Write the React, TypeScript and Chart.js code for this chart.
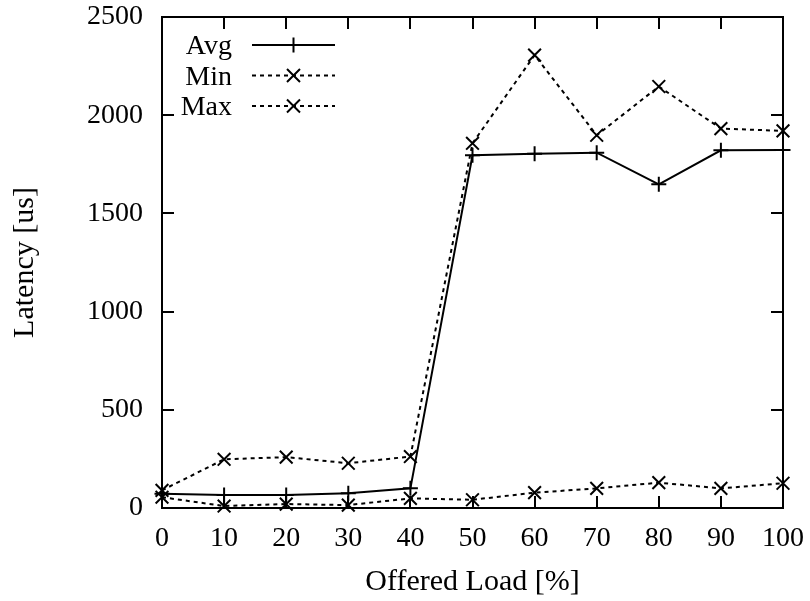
import { useEffect, useRef } from 'react';
import { Chart, registerables } from 'chart.js';

Chart.register(...registerables);

const loads = [0, 10, 20, 30, 40, 50, 60, 70, 80, 90, 100];
const avgLatency = [72, 66, 66, 75, 100, 1796, 1804, 1809, 1648, 1821, 1823];
const minLatency = [55, 10, 20, 15, 49, 42, 78, 100, 129, 100, 126];
const maxLatency = [90, 248, 259, 228, 262, 1857, 2306, 1898, 2146, 1932, 1920];
const xTickValues = [0, 10, 20, 30, 40, 50, 60, 70, 80, 90, 100];
const yTickValues = [0, 500, 1000, 1500, 2000, 2500];
const seriesNames = ['Avg', 'Min', 'Max'];
const xTitle = 'Offered Load [%]';
const yTitle = 'Latency [us]';

const FONT_FAMILY = '"Liberation Serif", "Times New Roman", Times, serif';
const FONT_SIZE = 28;
const TITLE_SIZE = 30;

function toPoints(values: number[]) {
  return loads.map((x, i) => ({ x, y: values[i] }));
}

function drawMarker(ctx: CanvasRenderingContext2D, style: string, x: number, y: number) {
  ctx.beginPath();
  if (style === 'cross') {
    const r = 7.5;
    ctx.moveTo(x - r, y);
    ctx.lineTo(x + r, y);
    ctx.moveTo(x, y - r);
    ctx.lineTo(x, y + r);
  } else {
    const r = 6.5;
    ctx.moveTo(x - r, y - r);
    ctx.lineTo(x + r, y + r);
    ctx.moveTo(x - r, y + r);
    ctx.lineTo(x + r, y - r);
  }
  ctx.stroke();
}

function zeroPadding(scale: any) {
  scale.paddingLeft = 0;
  scale.paddingRight = 0;
  scale.paddingTop = 0;
  scale.paddingBottom = 0;
}

const framePlugin = {
  id: 'gnuplotFrame',
  afterDraw(chart: any) {
    const { ctx, chartArea, scales } = chart;
    const { left, right, top, bottom } = chartArea;
    const tickLen = 12;
    ctx.save();
    ctx.strokeStyle = '#000';
    ctx.lineWidth = 2;
    ctx.setLineDash([]);
    ctx.beginPath();
    for (const v of yTickValues) {
      const py = Math.round(scales.y.getPixelForValue(v));
      ctx.moveTo(left, py);
      ctx.lineTo(left + tickLen, py);
      ctx.moveTo(right, py);
      ctx.lineTo(right - tickLen, py);
    }
    for (const v of xTickValues) {
      const px = Math.round(scales.x.getPixelForValue(v));
      ctx.moveTo(px, bottom);
      ctx.lineTo(px, bottom - tickLen);
      ctx.moveTo(px, top);
      ctx.lineTo(px, top + tickLen);
    }
    ctx.stroke();
    ctx.strokeRect(left, top, right - left, bottom - top);

    // key (legend)
    const styles = ['cross', 'crossRot', 'crossRot'];
    const dashes = [[], [4, 4], [4, 4]];
    const textRight = left + 70;
    const lineStart = left + 90;
    const lineEnd = left + 173;
    const rowTop = top + 28;
    const rowGap = 30.5;
    ctx.font = `${FONT_SIZE}px ${FONT_FAMILY}`;
    ctx.fillStyle = '#000';
    ctx.textAlign = 'right';
    ctx.textBaseline = 'middle';
    seriesNames.forEach((name, i) => {
      const ry = rowTop + i * rowGap;
      ctx.fillText(name, textRight, ry + 2);
      ctx.setLineDash(dashes[i]);
      ctx.beginPath();
      ctx.moveTo(lineStart, ry);
      ctx.lineTo(lineEnd, ry);
      ctx.stroke();
      ctx.setLineDash([]);
      drawMarker(ctx, styles[i], (lineStart + lineEnd) / 2, ry);
    });
    ctx.restore();
  },
};

export default function App() {
  const canvasRef = useRef<HTMLCanvasElement | null>(null);

  useEffect(() => {
    const canvas = canvasRef.current;
    if (!canvas) return;
    const font = { family: FONT_FAMILY, size: FONT_SIZE };
    const titleFont = { family: FONT_FAMILY, size: TITLE_SIZE };
    const common = {
      borderColor: '#000',
      backgroundColor: '#000',
      borderWidth: 2,
      pointBorderColor: '#000',
      pointBackgroundColor: '#000',
      pointBorderWidth: 2,
      fill: false,
      tension: 0,
      clip: false as any,
    };
    const chart = new Chart(canvas, {
      type: 'line',
      data: {
        datasets: [
          {
            ...common,
            label: seriesNames[0],
            data: toPoints(avgLatency),
            pointStyle: 'cross',
            pointRadius: 7.5,
          },
          {
            ...common,
            label: seriesNames[1],
            data: toPoints(minLatency),
            borderDash: [4, 4],
            pointStyle: 'crossRot',
            pointRadius: 9,
          },
          {
            ...common,
            label: seriesNames[2],
            data: toPoints(maxLatency),
            borderDash: [4, 4],
            pointStyle: 'crossRot',
            pointRadius: 9,
          },
        ],
      },
      options: {
        responsive: false,
        animation: false,
        devicePixelRatio: 1,
        layout: { padding: { left: 0, right: 27, top: 17, bottom: 0 } },
        plugins: {
          legend: { display: false },
          tooltip: { enabled: false },
        },
        scales: {
          x: {
            type: 'linear',
            min: 0,
            max: 100,
            afterBuildTicks: (scale: any) => {
              scale.ticks = xTickValues.map((v) => ({ value: v }));
            },
            afterFit: (scale: any) => {
              scale.height = 93;
              zeroPadding(scale);
            },
            ticks: {
              font,
              color: '#000',
              padding: 14,
              autoSkip: false,
              maxRotation: 0,
              callback: (v: any) => String(v),
            },
            grid: { display: false, drawTicks: false },
            border: { display: false },
            title: {
              display: true,
              text: xTitle,
              font: titleFont,
              color: '#000',
              padding: { top: 0, bottom: 1 },
            },
          },
          y: {
            type: 'linear',
            min: 0,
            max: 2500,
            afterBuildTicks: (scale: any) => {
              scale.ticks = yTickValues.map((v) => ({ value: v }));
            },
            afterFit: (scale: any) => {
              scale.width = 162;
              zeroPadding(scale);
            },
            ticks: {
              font,
              color: '#000',
              padding: 19,
              autoSkip: false,
              callback: (v: any) => String(v),
            },
            grid: { display: false, drawTicks: false },
            border: { display: false },
            title: {
              display: true,
              text: yTitle,
              font: titleFont,
              color: '#000',
              padding: { top: 7, bottom: 0 },
            },
          },
        },
      },
      plugins: [framePlugin],
    });
    return () => chart.destroy();
  }, []);

  return (
    <div style={{ position: 'fixed', left: 0, top: 0, width: 810, height: 601, background: '#fff' }}>
      <canvas ref={canvasRef} width={810} height={601} style={{ width: 810, height: 601 }} />
    </div>
  );
}
